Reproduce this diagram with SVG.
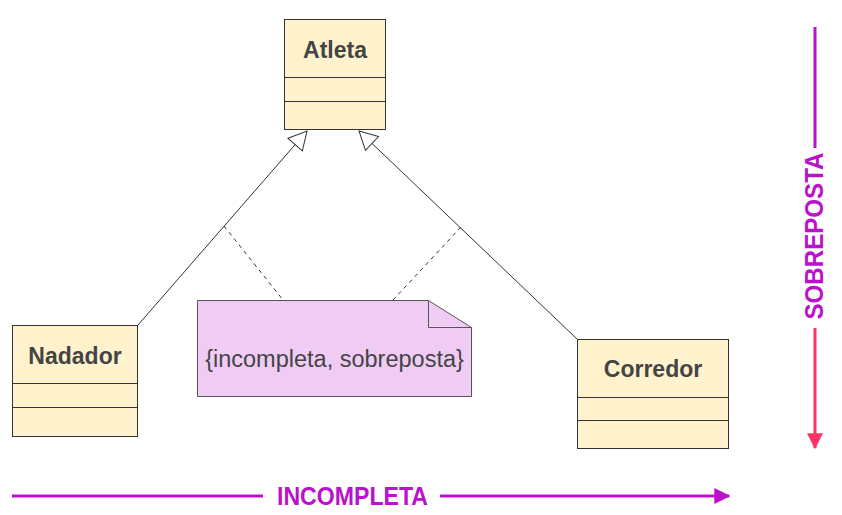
<svg xmlns="http://www.w3.org/2000/svg" width="842" height="515" viewBox="0 0 842 515">
<style>
.cls{fill:#FFF2CC;stroke:#333;stroke-width:1}
.title{font-family:"Liberation Sans",Arial,sans-serif;font-weight:bold;font-size:23px;fill:#444;text-anchor:middle}
.edge{stroke:#333;stroke-width:1;fill:none}
.dash{stroke:#333;stroke-width:1;fill:none;stroke-dasharray:4 4}
.big{font-family:"Liberation Sans",Arial,sans-serif;font-weight:bold;font-size:25px;fill:#BB11CC;text-anchor:middle}
</style>
<defs>
<marker id="gen" viewBox="0 0 20 22" refX="19" refY="11" markerWidth="20" markerHeight="22" markerUnits="userSpaceOnUse" orient="auto">
<path d="M1,1.5 L19,11 L1,20.5 Z" fill="#fff" stroke="#333" stroke-width="1"/>
</marker>
<marker id="ap" viewBox="0 0 12 12" refX="11" refY="6" markerWidth="16" markerHeight="16" markerUnits="userSpaceOnUse" orient="auto">
<path d="M0,0 L12,6 L0,12 Z" fill="#BB11CC"/>
</marker>
<marker id="ar" viewBox="0 0 12 12" refX="11" refY="6" markerWidth="16" markerHeight="16" markerUnits="userSpaceOnUse" orient="auto">
<path d="M0,0 L12,6 L0,12 Z" fill="#FF3366"/>
</marker>
</defs>
<g id="connectors">
<line class="edge" x1="138" y1="325" x2="307" y2="131" marker-end="url(#gen)"/>
<line class="edge" x1="577" y1="339" x2="359" y2="131" marker-end="url(#gen)"/>
<line class="dash" x1="224" y1="226" x2="283" y2="300"/>
<line class="dash" x1="461" y1="227" x2="393" y2="300"/>
</g>
<g id="atleta">
<rect class="cls" x="284.5" y="19.5" width="101" height="110"/>
<line class="edge" x1="284.5" y1="77.5" x2="385.5" y2="77.5"/>
<line class="edge" x1="284.5" y1="101.5" x2="385.5" y2="101.5"/>
<text class="title" x="335" y="58">Atleta</text>
</g>
<g id="nadador">
<rect class="cls" x="12.5" y="325.5" width="125" height="111"/>
<line class="edge" x1="12.5" y1="383.5" x2="137.5" y2="383.5"/>
<line class="edge" x1="12.5" y1="407.5" x2="137.5" y2="407.5"/>
<text class="title" x="75" y="364">Nadador</text>
</g>
<g id="corredor">
<rect class="cls" x="577.5" y="339.5" width="151" height="109"/>
<line class="edge" x1="577.5" y1="397.5" x2="728.5" y2="397.5"/>
<line class="edge" x1="577.5" y1="420.5" x2="728.5" y2="420.5"/>
<text class="title" x="653" y="377">Corredor</text>
</g>
<g id="note">
<path d="M197.5,300.5 H428.5 L471.5,327.5 V396.5 H197.5 Z" fill="#F0CCF5" stroke="#555" stroke-width="1"/>
<path d="M428.5,300.5 V327.5 H471.5" fill="none" stroke="#555" stroke-width="1"/>
<text x="334.5" y="367" font-family="'Liberation Sans',Arial,sans-serif" font-size="23.5" fill="#444" text-anchor="middle">{incompleta, sobreposta}</text>
</g>
<g id="incompleta">
<line x1="12" y1="496" x2="263" y2="496" stroke="#BB11CC" stroke-width="3"/>
<line x1="440" y1="496" x2="729" y2="496" stroke="#BB11CC" stroke-width="3" marker-end="url(#ap)"/>
<text class="big" x="352.5" y="505" textLength="151" lengthAdjust="spacingAndGlyphs">INCOMPLETA</text>
</g>
<g id="sobreposta">
<line x1="815" y1="27" x2="815" y2="148" stroke="#BB11CC" stroke-width="3"/>
<line x1="815" y1="328" x2="815" y2="448" stroke="#FF3366" stroke-width="3" marker-end="url(#ar)"/>
<text class="big" transform="translate(823,236) rotate(-90)" x="0" y="0" font-size="24" textLength="167" lengthAdjust="spacingAndGlyphs">SOBREPOSTA</text>
</g>
</svg>
